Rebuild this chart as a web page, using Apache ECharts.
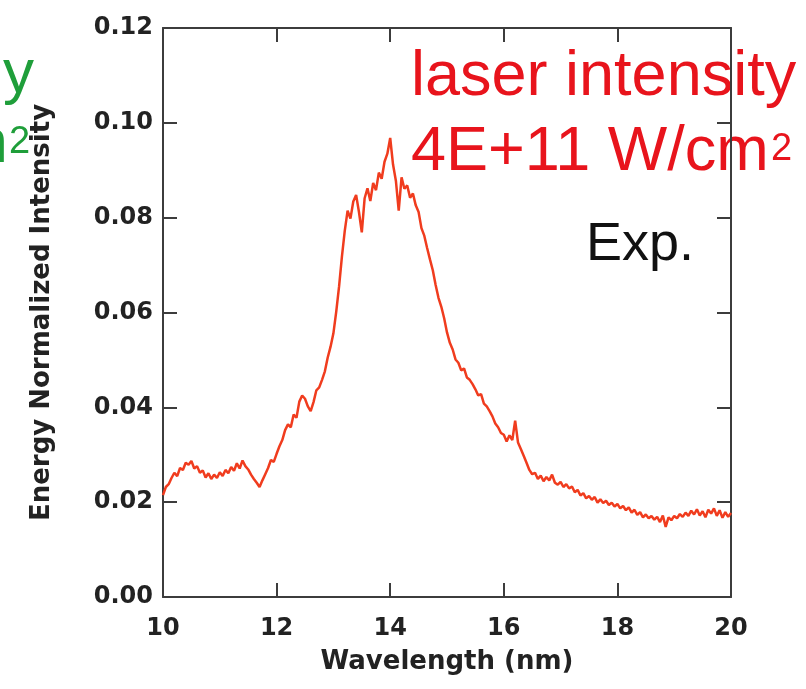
<!DOCTYPE html>
<html>
<head>
<meta charset="utf-8">
<title>Exp. spectrum</title>
<script src="https://cdn.jsdelivr.net/npm/echarts@6/dist/echarts.min.js"></script>
<style>
html, body { margin: 0; padding: 0; background: #fff; }
#chart { width: 806px; height: 689px; }
</style>
</head>
<body>
<div id="chart"></div>
<script>
// wavelength (nm), one sample every 0.05 nm
var wavelength = [
  10, 10.05, 10.1, 10.15, 10.2, 10.25, 10.3, 10.35, 10.4, 10.45,
  10.5, 10.55, 10.6, 10.65, 10.7, 10.75, 10.8, 10.85, 10.9, 10.95,
  11, 11.05, 11.1, 11.15, 11.2, 11.25, 11.3, 11.35, 11.4, 11.45,
  11.5, 11.55, 11.6, 11.65, 11.7, 11.75, 11.8, 11.85, 11.9, 11.95,
  12, 12.05, 12.1, 12.15, 12.2, 12.25, 12.3, 12.35, 12.4, 12.45,
  12.5, 12.55, 12.6, 12.65, 12.7, 12.75, 12.8, 12.85, 12.9, 12.95,
  13, 13.05, 13.1, 13.15, 13.2, 13.25, 13.3, 13.35, 13.4, 13.45,
  13.5, 13.55, 13.6, 13.65, 13.7, 13.75, 13.8, 13.85, 13.9, 13.95,
  14, 14.05, 14.1, 14.15, 14.2, 14.25, 14.3, 14.35, 14.4, 14.45,
  14.5, 14.55, 14.6, 14.65, 14.7, 14.75, 14.8, 14.85, 14.9, 14.95,
  15, 15.05, 15.1, 15.15, 15.2, 15.25, 15.3, 15.35, 15.4, 15.45,
  15.5, 15.55, 15.6, 15.65, 15.7, 15.75, 15.8, 15.85, 15.9, 15.95,
  16, 16.05, 16.1, 16.15, 16.2, 16.25, 16.3, 16.35, 16.4, 16.45,
  16.5, 16.55, 16.6, 16.65, 16.7, 16.75, 16.8, 16.85, 16.9, 16.95,
  17, 17.05, 17.1, 17.15, 17.2, 17.25, 17.3, 17.35, 17.4, 17.45,
  17.5, 17.55, 17.6, 17.65, 17.7, 17.75, 17.8, 17.85, 17.9, 17.95,
  18, 18.05, 18.1, 18.15, 18.2, 18.25, 18.3, 18.35, 18.4, 18.45,
  18.5, 18.55, 18.6, 18.65, 18.7, 18.75, 18.8, 18.85, 18.9, 18.95,
  19, 19.05, 19.1, 19.15, 19.2, 19.25, 19.3, 19.35, 19.4, 19.45,
  19.5, 19.55, 19.6, 19.65, 19.7, 19.75, 19.8, 19.85, 19.9, 19.95,
  20
];

// energy normalized intensity
var intensity = [
  0.0215, 0.0232, 0.0238, 0.0251, 0.0262, 0.0255, 0.0272, 0.0268, 0.0283, 0.0279,
  0.0287, 0.0271, 0.0276, 0.0262, 0.0267, 0.0252, 0.0261, 0.0249, 0.0258, 0.0251,
  0.0263, 0.0255, 0.0268, 0.0261, 0.0274, 0.0266, 0.0282, 0.0271, 0.0288, 0.0276,
  0.0269, 0.0258, 0.0249, 0.0241, 0.0232, 0.0246, 0.0259, 0.0272, 0.0289, 0.0285,
  0.0302, 0.0318, 0.0331, 0.0352, 0.0364, 0.0358, 0.0385, 0.0378, 0.0412, 0.0425,
  0.0418, 0.0402, 0.0392, 0.0411, 0.0436, 0.0442, 0.0458, 0.0476, 0.0505, 0.0528,
  0.0556, 0.0602, 0.0655, 0.0718, 0.0772, 0.0815, 0.0798, 0.0834, 0.0848, 0.0812,
  0.0769, 0.0841, 0.0862, 0.0835, 0.0873, 0.0858, 0.0895, 0.0882, 0.0918, 0.0935,
  0.0968, 0.0912, 0.0878, 0.0815, 0.0885, 0.0861, 0.0868, 0.0842, 0.0851, 0.0826,
  0.0812, 0.0778, 0.0762, 0.0736, 0.0712, 0.0689, 0.0658, 0.0631, 0.0612, 0.0588,
  0.0558, 0.0536, 0.0522, 0.0501, 0.0494, 0.0478, 0.0482, 0.0463, 0.0458, 0.0449,
  0.0438, 0.0425, 0.0428, 0.0408, 0.0402, 0.0392, 0.0381, 0.0366, 0.0358, 0.0346,
  0.0342, 0.0328, 0.0341, 0.0331, 0.0372, 0.0326, 0.0312, 0.0298, 0.0283, 0.0268,
  0.0259, 0.0262, 0.0249, 0.0256, 0.0244, 0.0253, 0.0246, 0.0258, 0.0241, 0.0237,
  0.0243, 0.0232, 0.0238, 0.0229, 0.0233, 0.0221, 0.0226, 0.0214, 0.0219, 0.0208,
  0.0213, 0.0205, 0.0211, 0.0199, 0.0206, 0.0198, 0.0203, 0.0194, 0.0199, 0.0191,
  0.0196, 0.0187, 0.0192, 0.0183, 0.0189, 0.0178, 0.0184, 0.0173, 0.0179, 0.0168,
  0.0174, 0.0166, 0.0171, 0.0163, 0.0169, 0.0158, 0.0172, 0.0148, 0.0168, 0.0162,
  0.0171, 0.0166, 0.0175, 0.0169, 0.0178, 0.0171, 0.0182, 0.0174, 0.0185, 0.0172,
  0.0181, 0.0168, 0.0184, 0.0176, 0.0187, 0.0171, 0.0183, 0.0167, 0.0179, 0.0169,
  0.0177
];

var xRange = [10, 20];
var yRange = [0, 0.12];

var points = wavelength.map(function (w, i) { return [w, intensity[i]]; });

var axisColor = '#3c3c3c';
var boldFont = 'DejaVu Sans';

function frameAxis (pos, showLabel) {
  return {
    type: 'value',
    position: pos,
    axisLine: { show: true, onZero: false, lineStyle: { color: axisColor, width: 2 } },
    axisTick: { show: true, inside: true, length: 14, lineStyle: { color: axisColor, width: 2 } },
    axisLabel: { show: showLabel },
    splitLine: { show: false }
  };
}

var xBottom = frameAxis('bottom', true);
xBottom.min = xRange[0];
xBottom.max = xRange[1];
xBottom.interval = 2;
xBottom.axisLabel = { show: true, margin: 20, color: '#222', fontFamily: boldFont, fontWeight: 'bold', fontSize: 24 };
xBottom.name = 'Wavelength (nm)';
xBottom.nameLocation = 'middle';
xBottom.nameGap = 52;
xBottom.nameTextStyle = { color: '#222', fontFamily: boldFont, fontWeight: 'bold', fontSize: 26 };

var xTop = frameAxis('top', false);
xTop.min = xRange[0];
xTop.max = xRange[1];
xTop.interval = 2;

var yLeft = frameAxis('left', true);
yLeft.min = yRange[0];
yLeft.max = yRange[1];
yLeft.interval = 0.02;
yLeft.axisLabel = {
  show: true, margin: 10, color: '#222', fontFamily: boldFont, fontWeight: 'bold', fontSize: 24,
  formatter: function (v) { return v.toFixed(2); }
};
yLeft.name = 'Energy Normalized Intensity';
yLeft.nameLocation = 'middle';
yLeft.nameGap = 108;
yLeft.nameTextStyle = { color: '#222', fontFamily: boldFont, fontWeight: 'bold', fontSize: 26 };

var yRight = frameAxis('right', false);
yRight.min = yRange[0];
yRight.max = yRange[1];
yRight.interval = 0.02;

var red = '#e8141c';
var green = '#1f9e3a';

var option = {
  animation: false,
  backgroundColor: '#fff',
  grid: { left: 163, right: 75, top: 28, bottom: 92 },
  xAxis: [xBottom, xTop],
  yAxis: [yLeft, yRight],
  series: [
    {
      type: 'line',
      xAxisIndex: 0,
      yAxisIndex: 0,
      data: points,
      showSymbol: false,
      lineStyle: { color: '#f03c1e', width: 2.5 }
    }
  ],
  graphic: [
    // labels from the neighbouring panel, cut off at the left edge
    { type: 'text', x: 34, y: 44, style: { text: 'y', align: 'right', verticalAlign: 'top', fill: green, font: '62px "Liberation Sans"' } },
    { type: 'text', x: 8, y: 114, style: { text: 'W/cm', align: 'right', verticalAlign: 'top', fill: green, font: '62px "Liberation Sans"' } },
    { type: 'text', x: 9, y: 124, style: { text: '2', align: 'left', verticalAlign: 'top', fill: green, font: '38px "Liberation Sans"' } },
    // this panel
    { type: 'text', x: 411, y: 46, style: { text: 'laser intensity', align: 'left', verticalAlign: 'top', fill: red, font: '63px "Liberation Sans"' } },
    { type: 'text', x: 411, y: 121, style: { text: '4E+11 W/cm', align: 'left', verticalAlign: 'top', fill: red, font: '63px "Liberation Sans"' } },
    { type: 'text', x: 771, y: 131, style: { text: '2', align: 'left', verticalAlign: 'top', fill: red, font: '38px "Liberation Sans"' } },
    { type: 'text', x: 586, y: 218, style: { text: 'Exp.', align: 'left', verticalAlign: 'top', fill: '#111', font: '54px "Liberation Sans"' } }
  ]
};

var myChart = echarts.init(document.getElementById('chart'));
myChart.setOption(option);
</script>
</body>
</html>
